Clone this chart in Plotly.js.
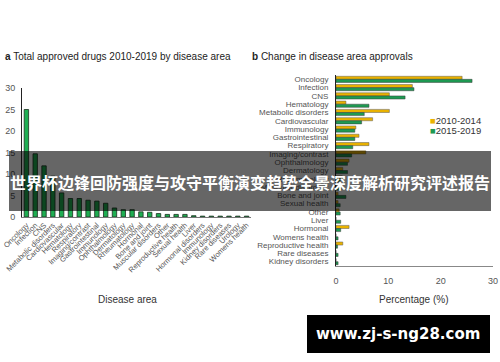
<!DOCTYPE html>
<html>
<head>
<meta charset="utf-8">
<script src="https://cdn.plot.ly/plotly-3.0.1.min.js"></script>
<style>html,body{margin:0;padding:0;background:#fff;overflow:hidden;}#chart{width:500px;height:362px;}</style>
</head>
<body>
<div id="chart"></div>
<script>
// Panel a: total approved drugs 2010-2019 by disease area
const leftCategories = ["Oncology","Infection","CNS","Metabolic disorders","Cardiovascular","Hematology","Respiratory","Imaging/contrast","Gastrointestinal","Immunology","Ophthalmology","Dermatology","Rheumatology","Hormonal","Bone and joint","Muscular disorders","Other","Reproductive health","Sexual health","Liver","Hormonal disorders","Immunology","Kidney disorders","Rare diseases","Urology","Womens health"];
const leftValues = [25, 14.7, 11.9, 9.5, 5.6, 4.3, 4.3, 3.9, 3.7, 3.2, 2.1, 1.7, 1.7, 1.2, 1.1, 0.8, 0.6, 0.6, 0.6, 0.3, 0.2, 0.2, 0.2, 0.2, 0.2, 0.2];
const leftTicks = [0, 5, 10, 15, 20, 25, 30];

// Panel b: change in disease area approvals
const rightCategories = ["Oncology","Infection","CNS","Hematology","Metabolic disorders","Cardiovascular","Immunology","Gastrointestinal","Respiratory","Imaging/contrast","Ophthalmology","Dermatology","Rheumatology","Muscular disorders","Bone and joint","Sexual health","Other","Liver","Hormonal","Womens health","Reproductive health","Rare diseases","Kidney disorders"];
const series2010 = [24.1, 14.6, 10.2, 1.9, 10.2, 7.0, 3.8, 4.4, 6.3, 5.7, 2.5, 1.3, 1.2, 0.5, 0.4, 0.4, 0.6, 0, 2.5, 0, 1.3, 0, 0];
const series2015 = [26.0, 14.9, 13.2, 6.3, 5.4, 4.9, 3.6, 3.6, 3.2, 3.0, 2.2, 2.2, 0.8, 1.0, 1.9, 0.8, 0.8, 0.9, 0.9, 0.4, 0.3, 0.4, 0.4];
const rightTicks = [0, 10, 20, 30];
const seriesNames = ["2010-2014", "2015-2019"];
const seriesColors = ["#e9b200", "#1e9a52"];

const FONT = "Liberation Sans, Arial, sans-serif";
const leftIdx = leftCategories.map((c, i) => i);

const traces = [
  {type: "bar", x: leftIdx, y: leftValues, xaxis: "x", yaxis: "y", showlegend: false,
   width: 0.5, marker: {color: "#1fae52", line: {color: "#1c2e20", width: 0.8}}},
  {type: "bar", orientation: "h", y: rightCategories, x: series2010, xaxis: "x2", yaxis: "y2",
   name: seriesNames[0], showlegend: false, marker: {color: seriesColors[0], line: {color: "#5a5a5a", width: 0.5}}},
  {type: "bar", orientation: "h", y: rightCategories, x: series2015, xaxis: "x2", yaxis: "y2",
   name: seriesNames[1], showlegend: false, marker: {color: seriesColors[1], line: {color: "#3a3a3a", width: 0.5}}}
];

const legendAnnotations = seriesNames.map((n, i) => ({
  text: '<span style="color:' + seriesColors[i] + '">■</span>' + n,
  xref: "paper", yref: "paper", x: 428/500, y: 1 - (120 + i * 10)/362,
  xanchor: "left", yanchor: "middle", showarrow: false, font: {size: 9.5, color: "#333"}
}));

const layout = {
  width: 500, height: 362,
  margin: {l: 0, r: 0, t: 0, b: 0, autoexpand: false},
  paper_bgcolor: "#fff", plot_bgcolor: "rgba(0,0,0,0)",
  font: {family: FONT, color: "#555", size: 9},
  barmode: "group", bargap: 0.25, bargroupgap: 0,
  showlegend: false,
  xaxis: {domain: [22/500, 251/500], range: [-0.5, leftCategories.length - 0.5],
    tickmode: "array", tickvals: leftIdx, ticktext: leftCategories, tickangle: -45,
    tickfont: {size: 7.5, color: "#555"}, showgrid: false, zeroline: false,
    showline: true, linecolor: "#777", linewidth: 1, ticks: "", anchor: "y", automargin: false},
  yaxis: {domain: [1 - 217/362, 1 - 88/362], range: [0, 30], tickmode: "array", tickvals: leftTicks,
    showgrid: false, zeroline: false, showline: true, linecolor: "#222", linewidth: 1,
    ticks: "", ticklabelstandoff: 4, tickfont: {size: 9, color: "#555"}, anchor: "x", automargin: false},
  xaxis2: {domain: [336/500, 493/500], range: [0, 30], tickmode: "array", tickvals: rightTicks,
    showgrid: false, zeroline: false, showline: true, linecolor: "#888", linewidth: 1.5,
    ticks: "", ticklabelstandoff: 6, tickfont: {size: 9, color: "#555"}, anchor: "y2", automargin: false},
  yaxis2: {domain: [1 - 265.8/362, 1 - 75.2/362], autorange: "reversed", type: "category",
    tickmode: "array", tickvals: rightCategories, ticktext: rightCategories,
    showgrid: false, zeroline: false, showline: true, linecolor: "#222", linewidth: 1,
    ticks: "", ticklabelstandoff: 5, tickfont: {size: 8, color: "#555"}, anchor: "x2", automargin: false},
  annotations: [
    {text: "<b>a</b> Total approved drugs 2010-2019 by disease area", xref: "paper", yref: "paper",
     x: 3/500, y: 1 - 57/362, xanchor: "left", yanchor: "middle", showarrow: false,
     font: {size: 10, color: "#222"}},
    {text: "<b>b</b> Change in disease area approvals", xref: "paper", yref: "paper",
     x: 250/500, y: 1 - 57/362, xanchor: "left", yanchor: "middle", showarrow: false,
     font: {size: 10, color: "#222"}},
    {text: "Disease area", xref: "paper", yref: "paper", x: 127/500, y: 1 - 299/362,
     xanchor: "center", yanchor: "middle", showarrow: false, font: {size: 10, color: "#333"}},
    {text: "Percentage (%)", xref: "paper", yref: "paper", x: 413/500, y: 1 - 299/362,
     xanchor: "center", yanchor: "middle", showarrow: false, font: {size: 10, color: "#333"}},
    ...legendAnnotations,
    {text: "<b>世界杯边锋回防强度与攻守平衡演变趋势全景深度解析研究评述报告</b>", xref: "paper", yref: "paper",
     x: 250/500, y: 1 - 182/362, xanchor: "center", yanchor: "middle", showarrow: false,
     font: {size: 16, color: "#fff", family: "Noto Sans CJK SC, sans-serif"}},
    {text: "<b>www.zj-s-ng28.com</b>", xref: "paper", yref: "paper",
     x: 398/500, y: 1 - 334/362, xanchor: "center", yanchor: "middle", showarrow: false,
     font: {size: 15, color: "#fff", family: "DejaVu Sans, sans-serif"}}
  ],
  shapes: [
    {type: "rect", xref: "paper", yref: "paper", x0: 9/500, x1: 491/500, y0: 1 - 211/362, y1: 1 - 151/362,
     fillcolor: "rgba(0,0,0,0.6)", line: {width: 0}, layer: "above"},
    {type: "rect", xref: "paper", yref: "paper", x0: 307/500, x1: 490/500, y0: 1 - 353/362, y1: 1 - 315/362,
     fillcolor: "#000", line: {width: 0}, layer: "above"}
  ]
};

Plotly.newPlot("chart", traces, layout, {displayModeBar: false, staticPlot: true});
</script>
</body>
</html>
